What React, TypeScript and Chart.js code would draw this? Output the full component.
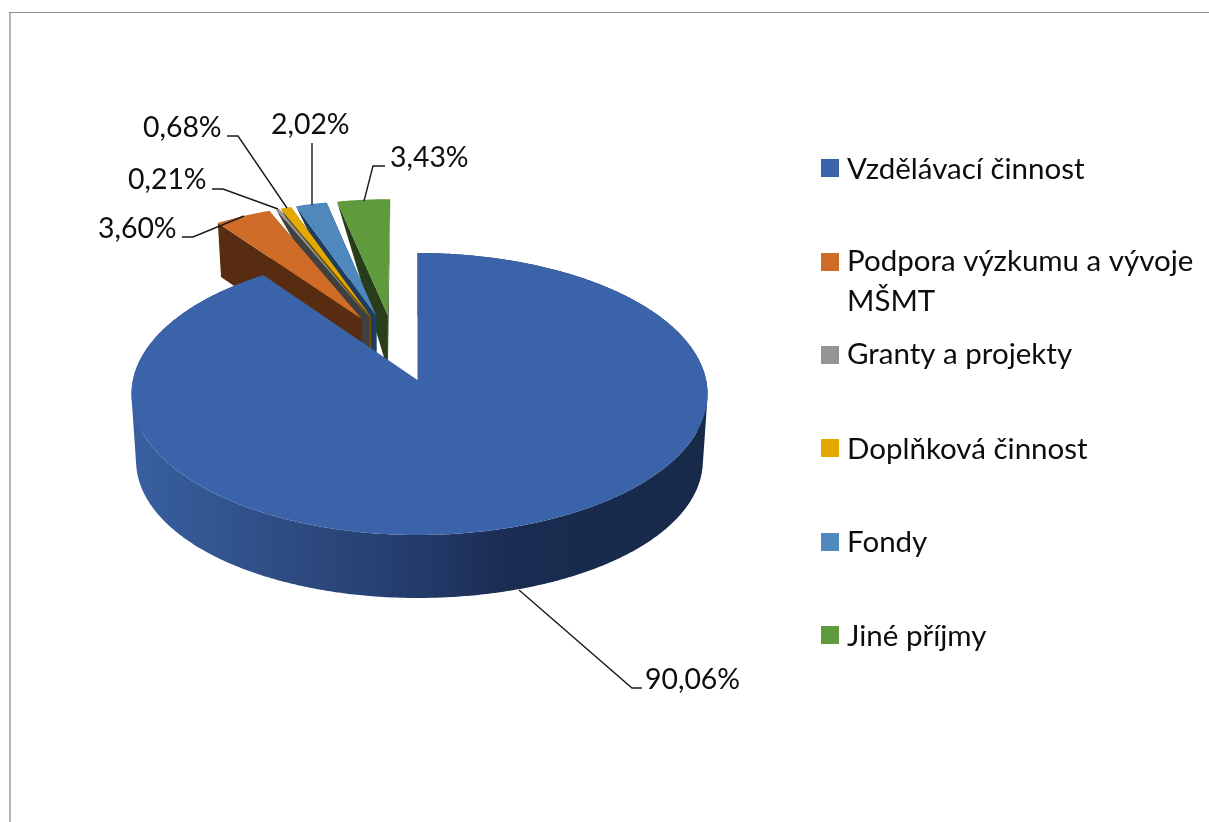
import React, { useEffect, useRef } from "react";
import { Chart, registerables } from "chart.js";

Chart.register(...registerables);

const categories = [
  "Vzdělávací činnost",
  "Podpora výzkumu a vývoje MŠMT",
  "Granty a projekty",
  "Doplňková činnost",
  "Fondy",
  "Jiné příjmy",
];
const shares = [90.06, 3.6, 0.21, 0.68, 2.02, 3.43];
const valueLabels = ["90,06%", "3,60%", "0,21%", "0,68%", "2,02%", "3,43%"];
const topColors = ["#3B63AA", "#CF6C28", "#959595", "#E3A900", "#4E88BC", "#5F9A3C"];
const wallColors = ["#1F3864", "#582C10", "#404040", "#6F5200", "#1F3D5E", "#283D1A"];
const legendLines = [
  ["Vzdělávací činnost"],
  ["Podpora výzkumu a vývoje", "MŠMT"],
  ["Granty a projekty"],
  ["Doplňková činnost"],
  ["Fondy"],
  ["Jiné příjmy"],
];
const legendSwatchTops = [159, 253, 346, 439, 533, 626];
const legendBaselines = [[179], [271, 311], [364], [459], [552], [646]];
const labelAnchors = [
  [645, 689],
  [98, 238],
  [128, 189],
  [143, 137],
  [271, 134],
  [390, 167],
];
const leaderLines = [
  [[519, 590], [632, 688], [642, 688]],
  [[244, 216], [193, 237], [182, 237]],
  [[278, 209], [223, 189], [212, 189]],
  [[287, 208], [238, 136], [227, 136]],
  [[312, 205], [312, 143]],
  [[364, 201], [373, 166], [385, 166]],
];
const outerEdgeDepths = [0, 54, 0, 0, 0, 0];

const FONT = 'Lato, "Noto Sans", sans-serif';
const LABEL_SIZE = 28.4;
const LEGEND_SIZE = 29.5;
const CX = 417.5;
const CY = 380;
const RX = 286.6;
const RY = 139.6;
const K = 0.0993;
const EXPLODE = 0.25;
const VERTEX_DEPTH = 55;
const SHRINK = 0.984;
const SLICE_SHIFT = -1.5;

type Pt = { x: number; y: number };

const pie3d = {
  id: "pie3d",
  beforeDatasetsDraw(chart: any) {
    const ctx = chart.ctx;
    const arcs = chart.getDatasetMeta(0).data;
    const blueMid = (arcs[0].startAngle + arcs[0].endAngle) / 2;
    const bu = Math.cos(blueMid) * EXPLODE;
    const bv = Math.sin(blueMid) * EXPLODE;
    const project = (U: number, V: number, shift: number) => {
      const u = U - bu;
      const v = V - bv;
      const s = 1 / (1 - K * v);
      const dx = s * u * RX;
      return { x: CX + dx * (dx > 0 ? 1.007 : 0.993) + shift, y: CY + s * v * RY, v };
    };
    const fillPoly = (pts: Pt[], color: any) => {
      ctx.beginPath();
      pts.forEach((p, i) => (i ? ctx.lineTo(p.x, p.y) : ctx.moveTo(p.x, p.y)));
      ctx.closePath();
      ctx.fillStyle = color;
      ctx.fill();
    };
    const lower = (p: Pt, d: number, t: number) => ({
      x: CX + (p.x - CX) * (1 - (1 - SHRINK) * t),
      y: p.y + d,
    });
    ctx.save();
    for (let i = arcs.length - 1; i >= 1; i--) {
      drawSlice(i);
    }
    drawSlice(0);
    ctx.restore();

    function drawSlice(i: number) {
      const el = arcs[i];
      const a0 = el.startAngle;
      const a1 = el.endAngle;
      const mid = (a0 + a1) / 2;
      const ox = Math.cos(mid) * EXPLODE;
      const oy = Math.sin(mid) * EXPLODE;
      const shift = i === 0 ? 0 : SLICE_SHIFT;
      const vertex = project(ox, oy, shift);
      const rim: { x: number; y: number; v: number }[] = [];
      const steps = Math.max(2, Math.ceil(((a1 - a0) * 180) / Math.PI / 0.5));
      for (let s = 0; s <= steps; s++) {
        const a = a0 + ((a1 - a0) * s) / steps;
        rim.push(project(ox + Math.cos(a), oy + Math.sin(a), shift));
      }
      if (i === 0) {
        const bottom = rim.map((p) => lower(p, 66.5 - 3.5 * p.v * p.v, 1));
        const g = ctx.createLinearGradient(136, 0, 703, 0);
        g.addColorStop(0, "#385F9F");
        g.addColorStop(0.29, "#2D4A80");
        g.addColorStop(0.5, "#233B6B");
        g.addColorStop(0.67, "#192B50");
        g.addColorStop(1, "#172A4A");
        // One side quad per rim step, all wound the same way, in a single path,
        // so that the wall's silhouette joins the top and bottom rims.
        ctx.beginPath();
        for (let s = 0; s < rim.length - 1; s++) {
          const q: Pt[] = [rim[s], rim[s + 1], bottom[s + 1], bottom[s]];
          let area = 0;
          q.forEach((p, j) => {
            const n = q[(j + 1) % 4];
            area += p.x * n.y - n.x * p.y;
          });
          if (area < 0) q.reverse();
          q.forEach((p, j) => (j ? ctx.lineTo(p.x, p.y) : ctx.moveTo(p.x, p.y)));
          ctx.closePath();
        }
        ctx.fillStyle = g;
        ctx.fill();
        const v0 = lower(vertex, 58.7, 1);
        fillPoly([vertex, rim[0], lower(rim[0], 55, 1), v0], wallColors[0]);
      } else {
        const vb = lower(vertex, VERTEX_DEPTH, 0);
        const first = rim[0];
        const last = rim[rim.length - 1];
        const od = outerEdgeDepths[i];
        fillPoly([vertex, first, lower(first, od, od ? 1 : 0), vb], wallColors[i]);
        fillPoly([vertex, last, lower(last, od, od ? 1 : 0), vb], wallColors[i]);
      }
      fillPoly([vertex, ...rim], el.options.backgroundColor);
    }
    return false;
  },
  afterDraw(chart: any) {
    const ctx = chart.ctx;
    ctx.save();
    // frame
    ctx.fillStyle = "#8E8E8E";
    ctx.fillRect(9, 12, 1200, 1);
    ctx.fillStyle = "#B4B4B4";
    ctx.fillRect(9, 13, 2, 809);
    // leaders
    ctx.strokeStyle = "#1a1a1a";
    ctx.lineWidth = 1.4;
    leaderLines.forEach((pts) => {
      ctx.beginPath();
      pts.forEach((p, i) => (i ? ctx.lineTo(p[0], p[1]) : ctx.moveTo(p[0], p[1])));
      ctx.stroke();
    });
    // text
    ctx.textAlign = "left";
    ctx.textBaseline = "alphabetic";
    ctx.fillStyle = "#0d0d0d";
    ctx.font = `${LABEL_SIZE}px ${FONT}`;
    valueLabels.forEach((t, i) => ctx.fillText(t, labelAnchors[i][0], labelAnchors[i][1]));
    ctx.font = `${LEGEND_SIZE}px ${FONT}`;
    categories.forEach((_, i) => {
      ctx.fillStyle = topColors[i];
      ctx.fillRect(821, legendSwatchTops[i], 18, 18);
      ctx.fillStyle = "#0d0d0d";
      legendLines[i].forEach((line, j) => ctx.fillText(line, 847, legendBaselines[i][j]));
    });
    ctx.restore();
  },
};

export default function App() {
  const ref = useRef<HTMLCanvasElement>(null);
  useEffect(() => {
    document.body.style.margin = "0";
    document.body.style.background = "#ffffff";
    const chart = new Chart(ref.current as HTMLCanvasElement, {
      type: "pie",
      data: {
        labels: categories,
        datasets: [{ data: shares, backgroundColor: topColors, borderWidth: 0 }],
      },
      options: {
        responsive: false,
        animation: false,
        rotation: 0,
        plugins: { legend: { display: false }, tooltip: { enabled: false } },
      },
      plugins: [pie3d],
    } as any);
    return () => chart.destroy();
  }, []);
  return (
    <div style={{ width: 1209, height: 822, overflow: "hidden" }}>
      <canvas ref={ref} width={1209} height={822} style={{ display: "block" }} />
    </div>
  );
}
